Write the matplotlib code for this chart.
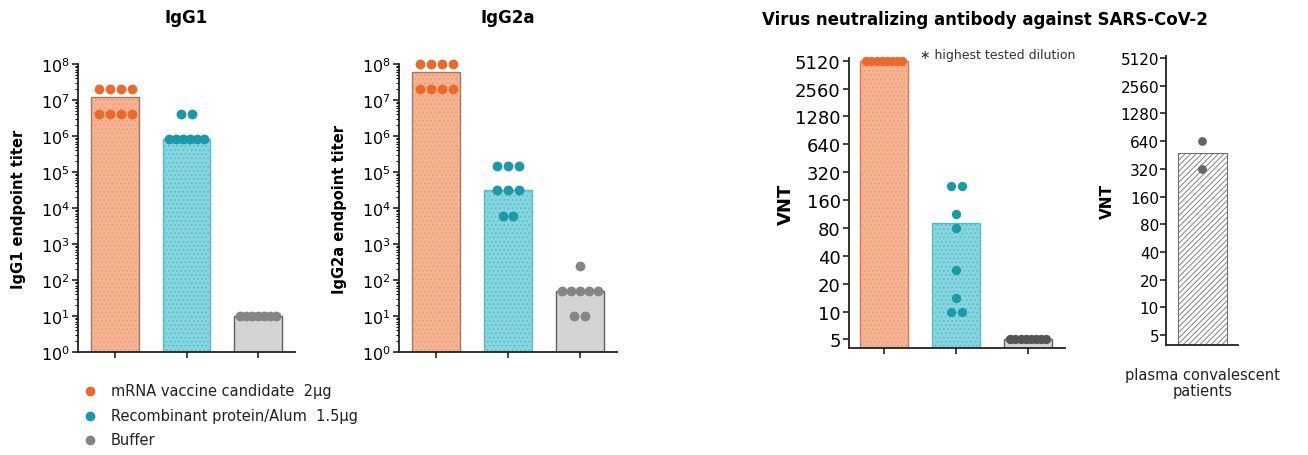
import numpy as np
import matplotlib
matplotlib.use("Agg")
import matplotlib.pyplot as plt
from matplotlib.lines import Line2D
from matplotlib.ticker import FixedLocator, FixedFormatter, NullFormatter, LogLocator

W, H = 1308, 456

# groups / colours
groups = ["mRNA vaccine candidate  2\u03bcg",
          "Recombinant protein/Alum  1.5\u03bcg",
          "Buffer"]
dot_colors = ["#ea6a2c", "#1a9aa8", "#858585"]
bar_colors = ["#f6b392", "#86d5e0", "#d4d4d4"]
hatch_colors = ["#eb9a76", "#52bccb", "#d4d4d4"]
edge_colors = ["#a07868", "#5bbac6", "#606060"]

# IgG1 endpoint titer
igg1_bars = [1.2e7, 8.5e5, 10]
igg1_dots = [[2e7] * 4 + [4e6] * 4,
             [4e6] * 2 + [8e5] * 6,
             [10] * 7]

# IgG2a endpoint titer
igg2a_bars = [6e7, 3.2e4, 50]
igg2a_dots = [[1e8] * 4 + [2e7] * 4,
              [1.5e5] * 3 + [3.1e4] * 3 + [6e3] * 2,
              [240] + [50] * 5 + [10] * 2]

# VNT
vnt_bars = [5120, 90, 5]
vnt_dots = [[5120] * 8,
            [226, 226, 113, 80, 28, 14, 10, 10],
            [5] * 8]
vnt_ticks = [5, 10, 20, 40, 80, 160, 320, 640, 1280, 2560, 5120]

# plasma convalescent patients
plasma_bar = 480
plasma_dots = [640, 320]


def rect(l, t, r, b):
    return [l / W, 1 - b / H, (r - l) / W, (b - t) / H]


def draw_dots(ax, x0, vals, color, size=50):
    # put equal values side by side in a row
    uniq = []
    for v in vals:
        if v not in uniq:
            uniq.append(v)
    for v in uniq:
        n = vals.count(v)
        if n > 1:
            step = min(0.153, 0.5 / (n - 1))
            xs = x0 + (np.arange(n) - (n - 1) / 2) * step
        else:
            xs = [x0]
        ax.scatter(xs, [v] * n, s=size, color=color, zorder=4, linewidths=0, clip_on=False)


def style(ax):
    for s in ["top", "right"]:
        ax.spines[s].set_visible(False)
    for s in ["left", "bottom"]:
        ax.spines[s].set_linewidth(1.3)
        ax.spines[s].set_color("#222222")
    ax.tick_params(axis="both", which="major", width=1.2, length=4, color="#222222")
    ax.tick_params(axis="y", which="minor", width=0.8, length=2)


def bar_panel(ax, bars, dots, edges=edge_colors, size=50, dcol=dot_colors):
    x = np.arange(len(bars))
    ax.bar(x, bars, width=0.67, color=bar_colors, edgecolor=edges, linewidth=1.0, zorder=2)
    # dotted texture
    for i in range(len(bars)):
        if i < 2:
            ax.bar(x[i], bars[i], width=0.63, color="none", edgecolor=hatch_colors[i],
                   linewidth=0, hatch="....", zorder=3)
        draw_dots(ax, x[i], dots[i], dcol[i], size)
    ax.set_xticks(x)
    ax.set_xticklabels([])


plt.rcParams["hatch.linewidth"] = 0.6
fig = plt.figure(figsize=(W / 100, H / 100), dpi=100)

# ---- IgG1 / IgG2a ----
for pos, bars, dots, lab, title in [((78, 65, 295, 353), igg1_bars, igg1_dots, "IgG1 endpoint titer", "IgG1"),
                                    ((399, 65, 617, 353), igg2a_bars, igg2a_dots, "IgG2a endpoint titer", "IgG2a")]:
    ax = fig.add_axes(rect(*pos))
    ax.set_yscale("log")
    bar_panel(ax, bars, dots)
    ax.set_ylim(1, 1e8)
    ax.set_xlim(-0.52, 2.52)
    ax.yaxis.set_major_locator(FixedLocator([10.0 ** k for k in range(9)]))
    ax.yaxis.set_major_formatter(FixedFormatter(["$10^{%d}$" % k for k in range(9)]))
    ax.yaxis.set_minor_locator(LogLocator(base=10, subs=np.arange(2, 10), numticks=20))
    ax.yaxis.set_minor_formatter(NullFormatter())
    style(ax)
    ax.tick_params(axis="y", labelsize=11.5, pad=2)
    ax.set_ylabel(lab, fontsize=10.5, fontweight="bold", labelpad=10.5)
    ax.set_title(title, fontsize=12, fontweight="bold", pad=30)

# ---- VNT ----
ax3 = fig.add_axes(rect(849, 59, 1065, 349))
ax3.set_yscale("log", base=2)
bar_panel(ax3, vnt_bars, vnt_dots, edges=["#e27552", "#5bbac6", "#606060"], size=45,
          dcol=[dot_colors[0], dot_colors[1], "#555555"])
ax3.set_ylim(4.04, 5480)
ax3.set_xlim(-0.49, 2.51)
ax3.yaxis.set_major_locator(FixedLocator(vnt_ticks))
ax3.yaxis.set_major_formatter(FixedFormatter([str(t) for t in vnt_ticks]))
ax3.yaxis.set_minor_locator(FixedLocator([]))
style(ax3)
ax3.tick_params(axis="y", labelsize=13, pad=2)
ax3.set_ylabel("VNT", fontsize=13, fontweight="bold", labelpad=0)
ax3.text(0.5, 5950, "\u2217 highest tested dilution", fontsize=9, ha="left", va="center",
         color="#333333")

# ---- plasma ----
ax4 = fig.add_axes(rect(1166, 57, 1238, 346))
ax4.set_yscale("log", base=2)
ax4.bar([0], [plasma_bar], width=0.67, color="white", edgecolor="#707070", linewidth=0.8,
        hatch="//////", zorder=2)
draw_dots(ax4, 0, plasma_dots, "#666666", 40)
ax4.set_ylim(3.9, 5380)
ax4.set_xlim(-0.5, 0.49)
ax4.yaxis.set_major_locator(FixedLocator(vnt_ticks))
ax4.yaxis.set_major_formatter(FixedFormatter([str(t) for t in vnt_ticks]))
ax4.yaxis.set_minor_locator(FixedLocator([]))
style(ax4)
ax4.set_xticks([])
ax4.tick_params(axis="y", labelsize=11, pad=1)
ax4.set_ylabel("VNT", fontsize=11, fontweight="bold", labelpad=4)
ax4.text(0, -0.075, "plasma convalescent\npatients", transform=ax4.get_xaxis_transform(),
         ha="center", va="top", fontsize=10.5, color="#222222", linespacing=1.1)

fig.text(985 / W, 1 - 20 / H, "Virus neutralizing antibody against SARS-CoV-2",
         ha="center", va="center", fontsize=12, fontweight="bold")

# legend
for i, g in enumerate(groups):
    y = 1 - (392 + 24.5 * i) / H
    fig.add_artist(Line2D([90 / W], [y], transform=fig.transFigure, marker="o",
                          markersize=6, color=dot_colors[i], linestyle="none"))
    fig.text(111 / W, y, g, fontsize=10.5, va="center", ha="left", color="#222222")

fig.savefig("out.png", dpi=100, facecolor="white")
